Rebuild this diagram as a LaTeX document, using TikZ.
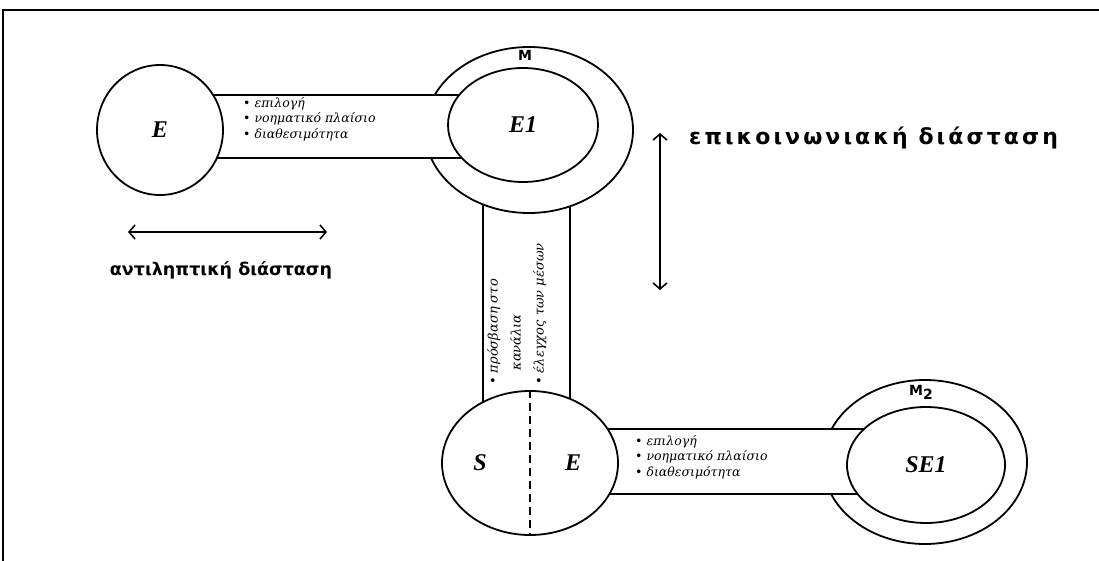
\documentclass[tikz,border=0pt]{standalone}
\usepackage{fontspec}
\setmainfont{Liberation Serif}
\newfontfamily\grsans{DejaVu Sans}
\newfontfamily\grlist{DejaVu Serif}
\usetikzlibrary{shapes.geometric,arrows.meta,calc}

\begin{document}
\begin{tikzpicture}[x=1pt,y=-1pt,
  outline/.style={line width=1.8pt},
  disc/.style={ellipse,draw,outline,fill=white,inner sep=0pt},
  band/.style={draw,outline,fill=white},
  agent/.style={font=\fontsize{24}{24}\selectfont\bfseries\itshape},
  listtext/.style={font=\grlist\fontsize{12.5}{15.5}\selectfont\itshape,align=left,inner sep=0pt},
  dimlabel/.style={font=\grsans\fontsize{17.5}{17.5}\selectfont\bfseries,inner sep=0pt},
  dimarrow/.style={line width=1.6pt,{Straight Barb[length=6pt,width=14pt]}-{Straight Barb[length=6pt,width=14pt]}},
  ringmark/.style={font=\grsans\fontsize{14}{14}\selectfont\bfseries,inner sep=0pt},
]
\useasboundingbox (0,0) rectangle (1099,561);
\fill[white] (0,0) rectangle (1099,561);
\draw[line width=2pt] (1099,10) -- (3,10) -- (3,561);

% centres of the discs
\coordinate (cE)   at (160,130);
\coordinate (cM)   at (529,130);
\coordinate (cE1)  at (523,125);
\coordinate (cSE)  at (530,463);
\coordinate (cM2)  at (925,462);
\coordinate (cSE1) at (926,465);

% vertical channel between the two systems
\draw[band] ($(cM)+(-46,60)$) rectangle ($(cSE)+(40,-40)$);

% outer rings
\node[disc,minimum width=208pt,minimum height=166pt] (M)  at (cM)  {};
\node[disc,minimum width=204pt,minimum height=164pt] (M2) at (cM2) {};
\node[ringmark] at ($(M.north)+(-4,9)$) {M};
\node[ringmark] at ($(M2.north)+(-4,13)$) {M\raisebox{-4pt}{2}};

% horizontal channels
\draw[band] ($(cE)+(30,-35)$) rectangle ($(cE1)+(-45,33)$);
\draw[band] ($(cSE)+(30,-34)$) rectangle ($(cSE1)+(-46,29)$);

% inner discs
\node[disc,agent,minimum width=150pt,minimum height=114pt] (E1)  at (cE1)  {E1};
\node[disc,agent,minimum width=158pt,minimum height=116pt] (SE1) at (cSE1) {SE1};
\node[disc,agent,minimum width=126pt,minimum height=130pt] (E)   at (cE)   {E};
\node[disc,minimum width=176pt,minimum height=144pt] (SE)  at (cSE)  {};
\draw[line width=1.6pt,dash pattern=on 8pt off 5pt] (SE.north) -- (SE.south);
\node[agent] (sS) at ($(cSE)+(-50,0)$) {S};
\node[agent] (sE) at ($(cSE)+(43,0)$) {E};

% channel texts
\node[listtext,anchor=west] (t1) at (243,119)
  {• επιλογή\\• νοηματικό πλαίσιο\\• διαθεσιμότητα};
\node[listtext,anchor=west] (t3) at (635,457)
  {• επιλογή\\• νοηματικό πλαίσιο\\• διαθεσιμότητα};
\node[listtext,font=\grlist\fontsize{13}{23}\selectfont\itshape,rotate=90,anchor=north west] (t2) at (487,385)
  {• πρόσβαση στο\\\hspace*{1.1em}κανάλια\\• έλεγχος των μέσων};

% dimensions
\coordinate (pl) at (128,232);
\coordinate (pr) at (327,232);
\draw[dimarrow] (pl) -- (pr);
\node[dimlabel] (plab) at (221,270) {αντιληπτική διάσταση};

\coordinate (ct) at (660,133);
\coordinate (cb) at (660,290);
\draw[dimarrow] (ct) -- (cb);
\node[dimlabel,font=\grsans\fontsize{22}{22}\selectfont\bfseries,anchor=west] (clab) at (689,138)
  {\addfontfeatures{LetterSpace=14}επικοινωνιακή διάσταση};
\end{tikzpicture}
\end{document}
